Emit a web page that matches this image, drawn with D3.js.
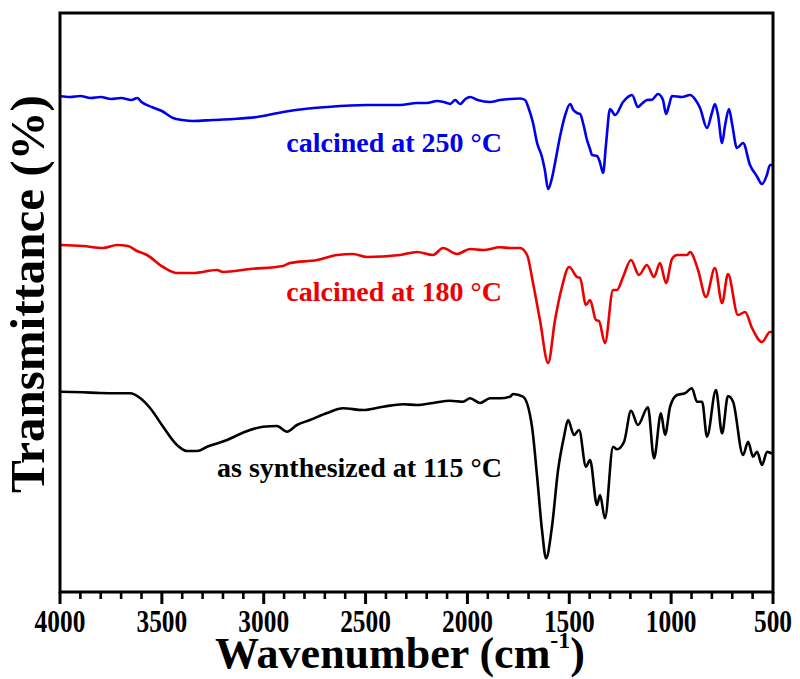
<!DOCTYPE html>
<html>
<head>
<meta charset="utf-8">
<script src="https://cdn.jsdelivr.net/npm/d3@7/dist/d3.min.js"></script>
<style>
  html, body { margin: 0; padding: 0; background: #fff; }
  svg { display: block; }
</style>
</head>
<body>
<svg id="chart" width="800" height="679" font-family="'Liberation Serif', 'Times New Roman', Times, serif" font-weight="bold"></svg>
<script>
// ---- Data (transmittance in arbitrary units, offset per spectrum) ----
const wn250 = [4000,3950,3900,3850,3800,3750,3700,3650,3620,3600,3550,3500,3445,3400,3347,3250,3151,3033,2905,2800,2689,2493,2331,2247,2200,2149,2100,2085,2060,2036,2010,1987,1950,1889,1840,1791,1742,1717,1700,1678,1658,1634,1620,1604,1585,1570,1546,1520,1496,1480,1462,1447,1430,1413,1400,1388,1364,1350,1334,1320,1300,1275,1236,1192,1163,1140,1119,1094,1064,1040,1025,1010,996,947,907,880,858,824,800,785,770,750,735,716,700,677,647,613,580,554,530,515,500];
const t250 = [496,495,496,494,495,493,494,492,494,490,485,481,474,472,471,472,473,475,480,483,485,487,487,489,489,491,489,488,492,488,493,495,492,490,492,493,493.5,492,484,469,449,435,422,403,414,429,455,477,488,482,479,478,467,452,444,437,436,430,419,447,483,477,490,497,485,489,492,492.3,498,492,478,487,496,495,497,492,484,464,479,488,477,449,467,483,467,444,449,427,416,408,417,427,427];

const wn180 = [4000,3887,3789,3720,3666,3622,3573,3494,3426,3347,3229,3200,3067,2905,2871,2738,2640,2562,2493,2331,2247,2169,2120,2051,1987,1923,1840,1791,1742,1707,1678,1644,1604,1570,1536,1501,1462,1447,1418,1398,1369,1354,1325,1285,1266,1236,1197,1158,1119,1084,1055,1025,996,971,922,907,868,829,785,750,721,672,637,603,554,515,500];
const t180 = [347,346,344,347,346,341,337,325,319,319,322,320,323,326,329,332,337,338,335,337,340,337,344,338,343,342,344.7,344,344,337,309,272,229,272,305,325,315,314,287,292,272,271,249,302,302,315,332,317,327,315,329,309,333,337,337,340,322,295,324,289,318,277,280,264,250,260,260];

const wn115 = [4000,3887,3804,3720,3656,3607,3558,3494,3426,3377,3327,3278,3180,3102,3003,2935,2886,2837,2773,2689,2611,2513,2414,2316,2247,2169,2085,2022,1987,1938,1889,1840,1791,1776,1727,1683,1658,1634,1614,1585,1555,1526,1506,1477,1452,1418,1398,1364,1349,1325,1285,1266,1231,1197,1163,1114,1084,1050,1030,1005,971,932,898,873,848,824,780,750,721,696,647,622,598,578,554,529,505,500];
const t115 = [200.3,199.7,199,198.7,198.7,194,184,165.3,147,141,141,145.3,152,159.3,165.3,166,160.3,167,172,179,183.7,182,185.3,187.7,187,189,191.3,190.3,193.7,189,193.7,193.7,195.3,198,195.3,165.3,115.3,62,33.7,65.3,122,155.3,172,157,162,125.3,132,87,97,73.7,145.3,142.7,150.3,181.3,167,184.7,133.7,178.7,157,185.3,197,198.7,203.7,190.3,190.3,155.3,202,158.7,196,190.3,137,150.3,135.3,140.3,127,140.3,138.7,139];

const seriesNames = ["calcined at 250 °C", "calcined at 180 °C", "as synthesized at 115 °C"];
const seriesColors = ["#0000ee", "#ee0000", "#000000"];
const xTickValues = [4000,3500,3000,2500,2000,1500,1000,500];

// ---- Layout ----
const svg = d3.select("#chart");
const L = 60, R = 773, T = 13, B = 592;

const x = d3.scaleLinear().domain([4000, 500]).range([L, R]);
const y = d3.scaleLinear().domain([0, B - T]).range([B, T]);

const line = d3.line()
  .x(d => x(d[0]))
  .y(d => y(d[1]))
  .curve(d3.curveMonotoneX);

const series = [
  { wn: wn250, t: t250 },
  { wn: wn180, t: t180 },
  { wn: wn115, t: t115 }
];

series.forEach((s, i) => {
  const pts = s.wn.map((w, j) => [w, s.t[j]]);
  svg.append("path")
    .attr("d", line(pts))
    .attr("fill", "none")
    .attr("stroke", seriesColors[i])
    .attr("stroke-width", 2.6)
    .attr("stroke-linejoin", "round");
});

// frame
svg.append("rect")
  .attr("x", L).attr("y", T)
  .attr("width", R - L).attr("height", B - T)
  .attr("fill", "none").attr("stroke", "#000").attr("stroke-width", 3);

// x axis ticks
const minor = d3.range(4000, 499, -100).filter(v => v % 500 !== 0);
svg.selectAll(".minor").data(minor).enter().append("line")
  .attr("x1", d => x(d)).attr("x2", d => x(d))
  .attr("y1", B).attr("y2", B + 7)
  .attr("stroke", "#000").attr("stroke-width", 2.6);
svg.selectAll(".major").data(xTickValues).enter().append("line")
  .attr("x1", d => x(d)).attr("x2", d => x(d))
  .attr("y1", B).attr("y2", B + 12)
  .attr("stroke", "#000").attr("stroke-width", 3);

svg.selectAll(".xlab").data(xTickValues).enter().append("text")
  .attr("transform", d => `translate(${x(d)},632) scale(0.82,1)`)
  .attr("text-anchor", "middle")
  .attr("font-size", 31)
  .text(d => d);

// axis titles
const xt = svg.append("text")
  .attr("x", 400).attr("y", 668)
  .attr("text-anchor", "middle")
  .attr("font-size", 44);
xt.append("tspan").text("Wavenumber (cm");
xt.append("tspan").attr("font-size", 24).attr("dy", -20).text("-1");
xt.append("tspan").attr("dy", 20).text(")");

svg.append("text")
  .attr("transform", "translate(44,294) rotate(-90)")
  .attr("text-anchor", "middle")
  .attr("font-size", 49)
  .text("Transmittance (%)");

// curve labels
const labelY = [152, 301, 477];
seriesNames.forEach((n, i) => {
  svg.append("text")
    .attr("x", 502).attr("y", labelY[i])
    .attr("text-anchor", "end")
    .attr("font-size", 28)
    .attr("fill", seriesColors[i])
    .text(n);
});
</script>
</body>
</html>
